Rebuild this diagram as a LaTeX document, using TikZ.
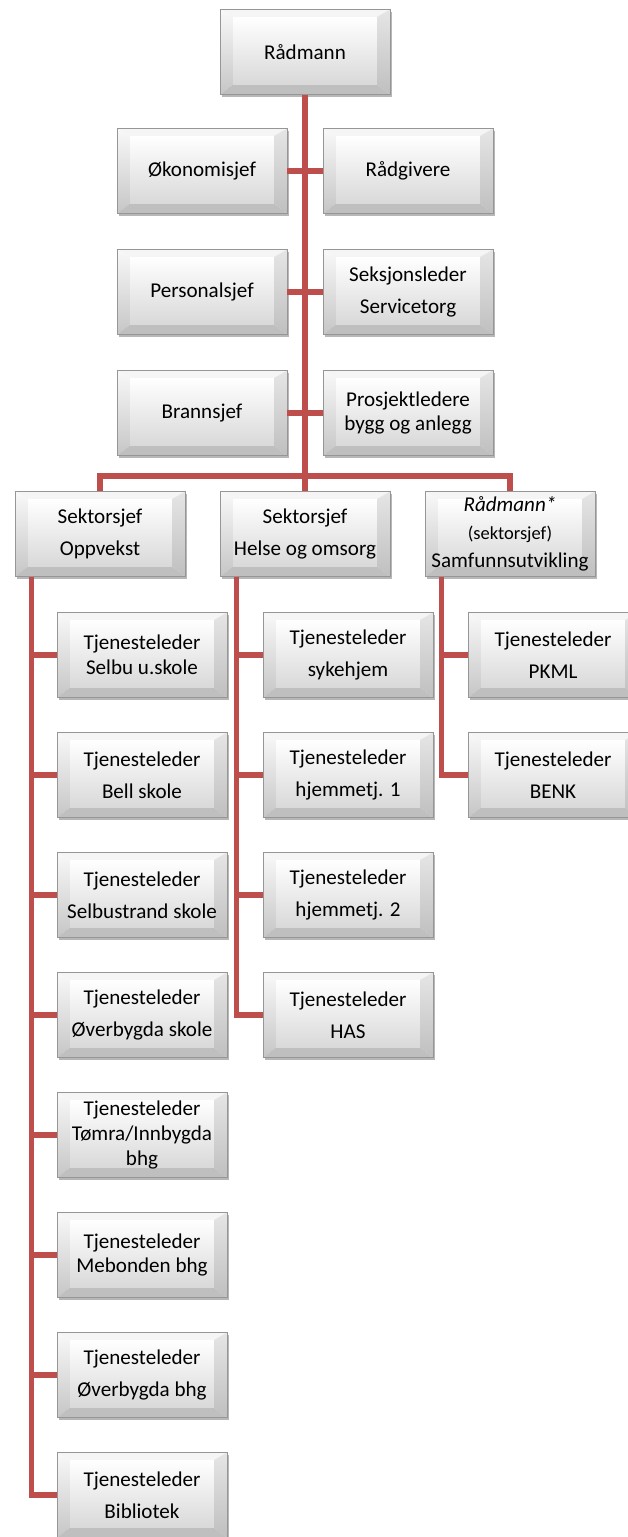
\documentclass[tikz,border=0pt]{standalone}
\usepackage{fontspec}
\setmainfont{Carlito}
\usetikzlibrary{shadows}
\definecolor{linjerod}{RGB}{190,78,75}
\definecolor{kant}{RGB}{150,150,150}

\tikzset{
  boks/.style={draw=kant, line width=0.4pt, fill=white,
    minimum width=3.4cm, minimum height=1.7cm, inner sep=1pt, align=center,
    font=\fontsize{12}{18}\selectfont,
    drop shadow={shadow xshift=1.2pt, shadow yshift=-1.6pt, opacity=0.4, fill=black!70},
    path picture={
      \coordinate (osw) at (path picture bounding box.south west);
      \coordinate (one) at (path picture bounding box.north east);
      \coordinate (isw) at ([shift={(0.26cm,0.2cm)}]path picture bounding box.south west);
      \coordinate (ine) at ([shift={(-0.26cm,-0.15cm)}]path picture bounding box.north east);
      \fill[gray!8] (osw|-one) -- (one) -- (ine) -- (isw|-ine) -- cycle;
      \shade[top color=gray!5, bottom color=gray!45] (osw) -- (osw|-one) -- (isw|-ine) -- (isw) -- cycle;
      \shade[top color=gray!20, bottom color=gray!50] (one) -- (one|-osw) -- (ine|-isw) -- (ine) -- cycle;
      \fill[gray!50] (osw) -- (one|-osw) -- (ine|-isw) -- (isw) -- cycle;
      \shade[top color=white, bottom color=gray!30] (isw) rectangle (ine);
    }},
  tett/.style={font=\fontsize{12}{14}\selectfont},
  vanlig/.style={},
  linje/.style={draw=linjerod, line width=3pt},
}

\begin{document}
\begin{tikzpicture}[x=0.02cm, y=-0.02cm]
  \useasboundingbox (0,0) rectangle (628,1537);

  \node[boks] (radmann) at (305,52) {Rådmann};
  \node[boks] (okonomi) at (202,171) {Økonomisjef};
  \node[boks] (radgiver) at (408,171) {Rådgivere};
  \node[boks] (personal) at (202,292) {Personalsjef};
  \node[boks] (seksjon) at (408,292) {Seksjonsleder\\Servicetorg};
  \node[boks] (brann) at (202,413) {Brannsjef};
  \node[boks,tett] (prosjekt) at (408,413) {Prosjektledere\\bygg og anlegg};

  \node[boks] (oppvekst) at (100,534) {Sektorsjef\\Oppvekst};
  \node[boks] (helse) at (305,534) {Sektorsjef\\Helse og omsorg};
  \node[boks,font=\fontsize{12}{16}\selectfont] (samfunn) at (510,534)
    {\textit{Rådmann*}\\{\fontsize{10.5}{12}\selectfont(sektorsjef)}\\Samfunnsutvikling};

  \coordinate (gren) at (305,476);
  \draw[linje] (radmann.south) -- (gren);
  \draw[linje] (okonomi.east) -- (radgiver.west);
  \draw[linje] (personal.east) -- (seksjon.west);
  \draw[linje] (brann.east) -- (prosjekt.west);
  \draw[linje] (oppvekst.north) |- (gren) -| (samfunn.north);
  \draw[linje] (gren) -- (helse.north);

  % Oppvekst
  \foreach \navn/\stil/\tekst [count=\i from 0] in {selbu/tett/{Selbu u.skole},
      bell/vanlig/{Bell skole}, strand/vanlig/{Selbustrand skole},
      overskole/vanlig/{Øverbygda skole}, tomra/tett/{Tømra/Innbygda\\bhg},
      mebonden/tett/{Mebonden bhg}, overbhg/vanlig/{Øverbygda bhg},
      bibliotek/vanlig/{Bibliotek}} {
    \node[boks,\stil] (\navn) at (142,{655+120*\i}) {Tjenesteleder\\\tekst};
    \draw[linje] ([xshift=0.34cm]oppvekst.south west) |- (\navn.west);
  }

  % Helse og omsorg
  \foreach \navn/\tekst [count=\i from 0] in {sykehjem/sykehjem,
      hjem1/{hjemmetj. 1}, hjem2/{hjemmetj. 2}, has/HAS} {
    \node[boks] (\navn) at (348,{655+120*\i}) {Tjenesteleder\\\tekst};
    \draw[linje] ([xshift=0.34cm]helse.south west) |- (\navn.west);
  }

  % Samfunnsutvikling
  \foreach \navn/\tekst [count=\i from 0] in {pkml/PKML, benk/BENK} {
    \node[boks] (\navn) at (553,{655+120*\i}) {Tjenesteleder\\\tekst};
    \draw[linje] ([xshift=0.34cm]samfunn.south west) |- (\navn.west);
  }
\end{tikzpicture}
\end{document}
